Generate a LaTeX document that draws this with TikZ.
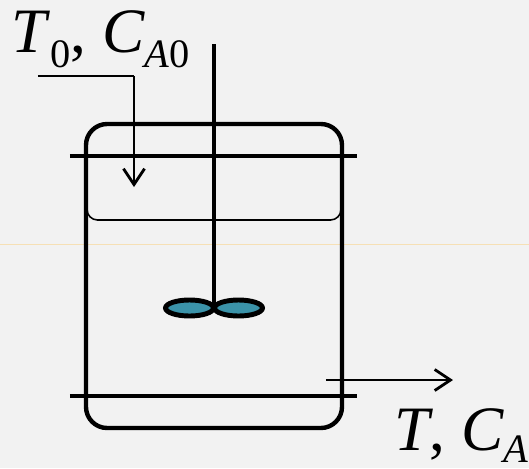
\documentclass[tikz,border=0pt]{standalone}
\usepackage{fontspec}
\setmainfont{Liberation Serif}
\usetikzlibrary{arrows.meta}
\definecolor{panelgray}{HTML}{F2F2F2}
\definecolor{bladeteal}{HTML}{3B93A9}
\definecolor{guideline}{HTML}{F6E0B5}
\newcommand{\streamlabel}[2]{\fontsize{36}{36}\selectfont\textit{#1}\raisebox{-0.24em}{\fontsize{23}{23}\selectfont #2}}
\begin{document}
\begin{tikzpicture}[x=0.02cm,y=-0.02cm,
  heavy/.style={line width=2.5pt},
  flow/.style={line width=1.5pt,-{Straight Barb[length=9pt,width=12pt,line width=1.6pt]}},
  blade/.style={draw,fill=bladeteal,line width=2.8pt}]
\useasboundingbox (0,0) rectangle (529,468);
\fill[panelgray] (0,0) rectangle (529,468);
\draw[guideline,line width=0.5pt] (0,244) -- (529,244);

\draw[line width=0.9pt,rounded corners=6pt] (87,200) -- (87,220) -- (341,220) -- (341,200);
\draw[heavy,rounded corners=12pt] (86,124) rectangle (342,428);
\draw[heavy] (70,156) -- (357,156);
\draw[heavy] (70,396) -- (357,396);

\draw[heavy] (214,44) -- (214,312);
\draw[blade] (189.5,308) ellipse (24 and 8);
\draw[blade] (238.5,308) ellipse (24 and 8);

\coordinate (feedstart) at (38,76);
\coordinate (feedbend) at (134,76);
\coordinate (feedend) at (134,187);
\coordinate (outstart) at (326,380);
\coordinate (outend) at (453,380);
\draw[line width=1.6pt] (feedstart) -- (feedbend);
\draw[flow] (feedbend) -- (feedend);
\draw[flow] (outstart) -- (outend);

\node[anchor=base west,inner sep=0pt] (inlabel) at (11,52) {\streamlabel{T}{0}\fontsize{36}{36}\selectfont, \textit{C}\raisebox{-0.24em}{\fontsize{23}{23}\selectfont\textit{A}0}};
\node[anchor=base west,inner sep=0pt] (outlabel) at (394,450) {\fontsize{36}{36}\selectfont\textit{T}, \textit{C}\raisebox{-0.2em}{\fontsize{23}{23}\selectfont\textit{A}}};
\end{tikzpicture}
\end{document}
